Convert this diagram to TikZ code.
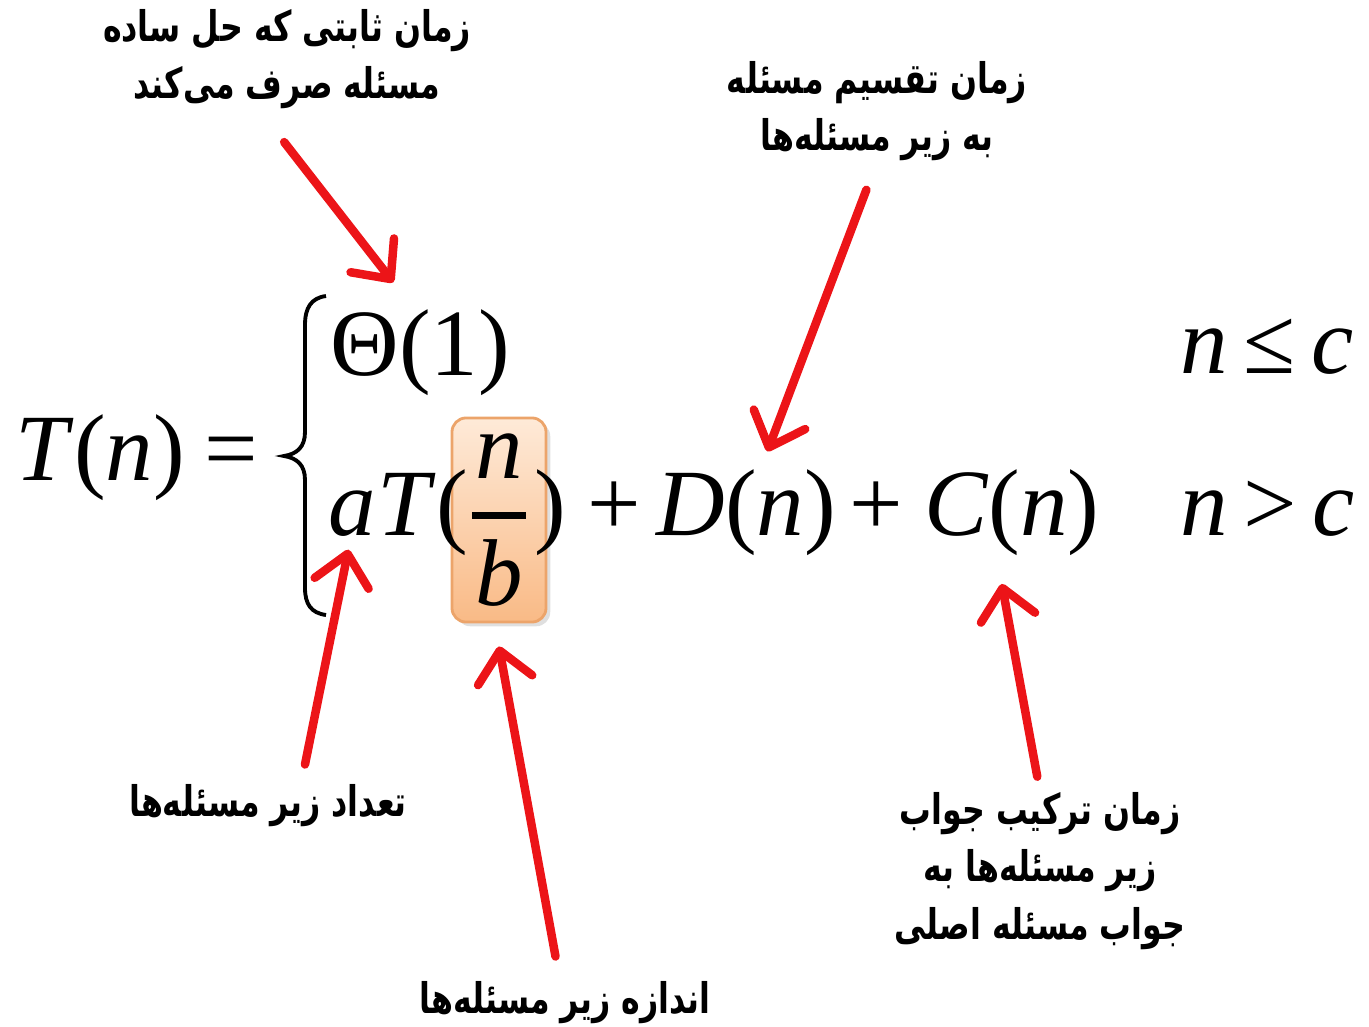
\documentclass[tikz,border=0pt]{standalone}
\usepackage{amsmath}
\usepackage{fontspec}
\newfontfamily\farsi[Script=Arabic,FakeStretch=0.75]{DejaVu Sans}
\newfontfamily\eqfont{Liberation Serif}
\TeXXeTstate=1
\usetikzlibrary{arrows.meta,positioning,shadows}
\definecolor{PointerRed}{RGB}{236,20,24}
\definecolor{BoxTop}{RGB}{254,234,216}
\definecolor{BoxBottom}{RGB}{249,186,134}
\definecolor{BoxEdge}{RGB}{236,164,106}
\newcommand{\fa}[1]{\beginR #1\endR}
\newcommand{\mi}[1]{\textit{#1}}
\tikzset{
  note/.style={font=\farsi\bfseries\fontsize{12}{16.4}\selectfont,align=center,
    inner sep=0pt},
  eqpart/.style={font=\eqfont\fontsize{27}{32}\selectfont,inner sep=0pt,
    anchor=base west},
  sizebox/.style={rounded corners=4pt,draw=BoxEdge,thick,top color=BoxTop,
    bottom color=BoxBottom,drop shadow={opacity=0.25,shadow xshift=1.2pt,
    shadow yshift=-1.2pt},minimum width=0.94cm,minimum height=2.04cm,inner sep=0pt,
    font=\eqfont\fontsize{27}{32}\selectfont},
  braceline/.style={line width=1.1pt,black},
  pointer/.style={-{Straight Barb[round,length=0.3cm,width=0.55cm]},
    line width=0.085cm,PointerRed,line cap=round}
}

\begin{document}
\begin{tikzpicture}[x=0.01cm,y=-0.01cm]
  \useasboundingbox (0,0) rectangle (1369,1027);
  % the recurrence
  \node[sizebox] (frac) at (499,520)
    {$\genfrac{}{}{2pt}{0}{\hbox{\kern1pt\mi{n}\kern1pt}}{\hbox{\kern1pt\mi{b}\kern1pt}}$};
  \node[eqpart] (lhs) at (15,480) {\mi{T}(\mi{n})\hspace{0.2cm}=};
  \draw[braceline] (326,296) .. controls (311,298) and (305,308) .. (305,325)
    -- (305,432) .. controls (305,447) and (297,454) .. (284,456)
    .. controls (297,458) and (305,465) .. (305,480)
    -- (305,588) .. controls (305,604) and (311,613) .. (326,615);
  \node[eqpart] (theta) at (330,375) {Θ(1)};
  \node[eqpart] (ra) at (328,535) {\mi{a}};
  \node[eqpart,base right=0pt of ra] (rT) {\mi{T}(};
  \node[eqpart] (rclose) at (534,535) {)};
  \node[eqpart,base right=0.2cm of rclose] (rplus) {+};
  \node[eqpart,base right=0.14cm of rplus] (rD) {\mi{D}(\mi{n})};
  \node[eqpart,base right=0.12cm of rD] (rplus2) {+};
  \node[eqpart,base right=0.2cm of rplus2] (rC) {\mi{C}(\mi{n})};
  \node[eqpart] (cond1) at (1180,373) {\mi{n}\hspace{0.15cm}≤\hspace{0.16cm}\mi{c}};
  \node[eqpart] (cond2) at (1180,535) {\mi{n}\hspace{0.15cm}>\hspace{0.16cm}\mi{c}};
  % the notes
  \node[note] (lblConst) at (287,59) {\fa{زمان ثابتی که حل ساده}\\ \fa{مسئله صرف می‌کند}};
  \node[note] (lblDiv) at (877,111) {\fa{زمان تقسیم مسئله}\\ \fa{به زیر مسئله‌ها}};
  \node[note] (lblCount) at (268,806) {\fa{تعداد زیر مسئله‌ها}};
  \node[note] (lblComb) at (1040,871) {\fa{زمان ترکیب جواب}\\ \fa{زیر مسئله‌ها به}\\ \fa{جواب مسئله اصلی}};
  \node[note] (lblSize) at (565,1003) {\fa{اندازه زیر مسئله‌ها}};
  % pointers
  \draw[pointer,shorten <=0.41cm] ([xshift=-0.28cm]lblConst.south) -- ([xshift=-0.27cm,yshift=0.26cm]theta.north);
  \draw[pointer,shorten <=0.3cm] (lblDiv.south) -- ([xshift=0.21cm,yshift=0.17cm]rD.north);
  \draw[pointer,shorten <=0.2cm] ([xshift=0.33cm]lblCount.north) -- ([xshift=-0.04cm,yshift=-0.13cm]ra.south);
  \draw[pointer,shorten <=0.25cm] ([xshift=-0.05cm]lblSize.north) -- ([yshift=-0.23cm]frac.south);
  \draw[pointer,shorten <=0.15cm] (lblComb.north) -- ([xshift=-0.1cm,yshift=-0.28cm]rC.south);
\end{tikzpicture}
\end{document}
